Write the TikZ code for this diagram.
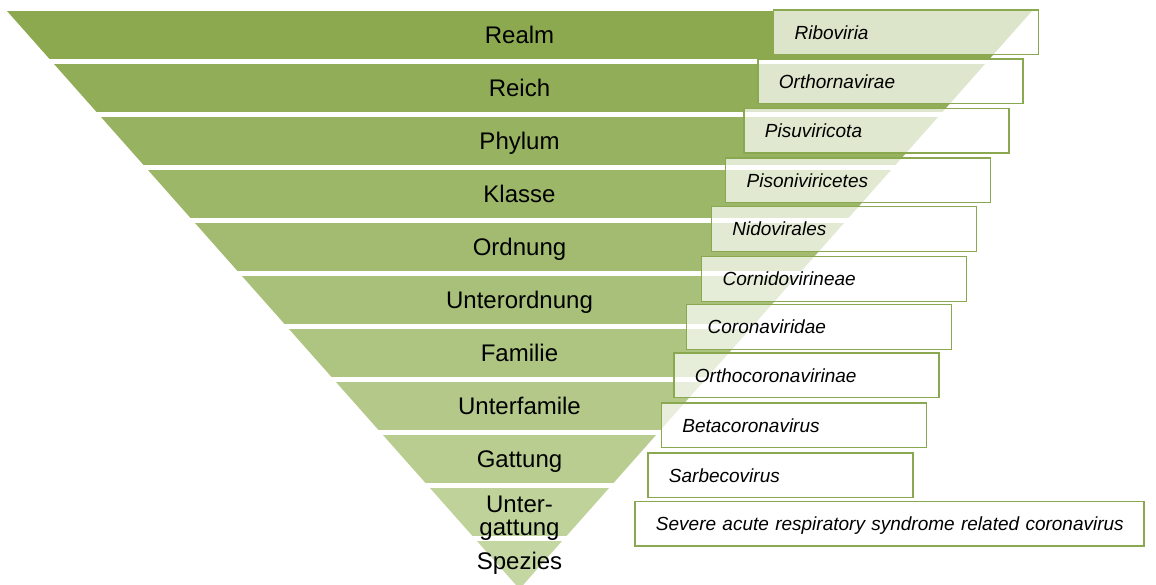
\documentclass[tikz,border=0pt]{standalone}
\usepackage{fontspec}
\setmainfont{Liberation Sans}
\definecolor{bandtop}{RGB}{140,169,80}
\definecolor{bandbot}{RGB}{196,214,161}
\definecolor{boxline}{RGB}{137,168,80}
\begin{document}
\begin{tikzpicture}[
x=1pt,y=-1pt,
ranktext/.style={font=\fontsize{24}{23.3}\selectfont,align=center,inner sep=0pt},
rank/.style={ranktext,text height=17.2pt,text depth=0pt},
taxon/.style={draw=boxline,line width=1.3pt,fill=white,fill opacity=0.7,text opacity=1,
	anchor=north west,minimum height=44.5pt,inner xsep=21pt,inner ysep=0pt,
	text width=223pt,align=left,text height=13.6pt,text depth=0pt,
	font=\fontsize{19}{22}\selectfont\itshape}
]
\useasboundingbox (0,0) rectangle (1156,584);
% the triangle, cut into bands
\begin{scope}
\clip (7,11) -- (1032,11) -- (519.5,589) -- cycle;
\foreach \i in {0,...,10}{
	\pgfmathtruncatemacro\pct{10*\i}
	\fill[bandbot!\pct!bandtop] (0,11+53*\i) rectangle (1156,58.5+53*\i);
}
\end{scope}
% ranks
\node[rank] (realm) at (519.5,34.75) {Realm};
\node[rank] (reich) at (519.5,87.75) {Reich};
\node[rank] (phylum) at (519.5,140.75) {Phylum};
\node[rank] (klasse) at (519.5,193.75) {Klasse};
\node[rank] (ordnung) at (519.5,246.75) {Ordnung};
\node[rank] (unterordnung) at (519.5,299.75) {Unterordnung};
\node[rank] (familie) at (519.5,352.75) {Familie};
\node[rank] (unterfamilie) at (519.5,405.75) {Unterfamile};
\node[rank] (gattung) at (519.5,458.75) {Gattung};
\node[ranktext] (untergattung) at (519.5,518) {Unter-\\gattung};
\node[rank] (spezies) at (519.5,560.5) {Spezies};
% taxa
\node[taxon] (riboviria) at (773,9.3) {Riboviria};
\node[taxon] (orthornavirae) at (757.3,58.3) {Orthornavirae};
\node[taxon] (pisuviricota) at (743.3,107.7) {Pisuviricota};
\node[taxon] (pisoniviricetes) at (725,157.3) {Pisoniviricetes};
\node[taxon] (nidovirales) at (710.7,206) {Nidovirales};
\node[taxon] (cornidovirineae) at (701,256) {Cornidovirineae};
\node[taxon] (coronaviridae) at (686,304) {Coronaviridae};
\node[taxon] (orthocoronavirinae) at (673.3,352.3) {Orthocoronavirinae};
\node[taxon] (betacoronavirus) at (660.7,402.3) {Betacoronavirus};
\node[taxon] (sarbecovirus) at (647.3,452.3) {Sarbecovirus};
\node[taxon,text width=467pt] (sarscov) at (634.3,500.7) {\mbox{Severe acute respiratory syndrome related coronavirus}};
\end{tikzpicture}
\end{document}
